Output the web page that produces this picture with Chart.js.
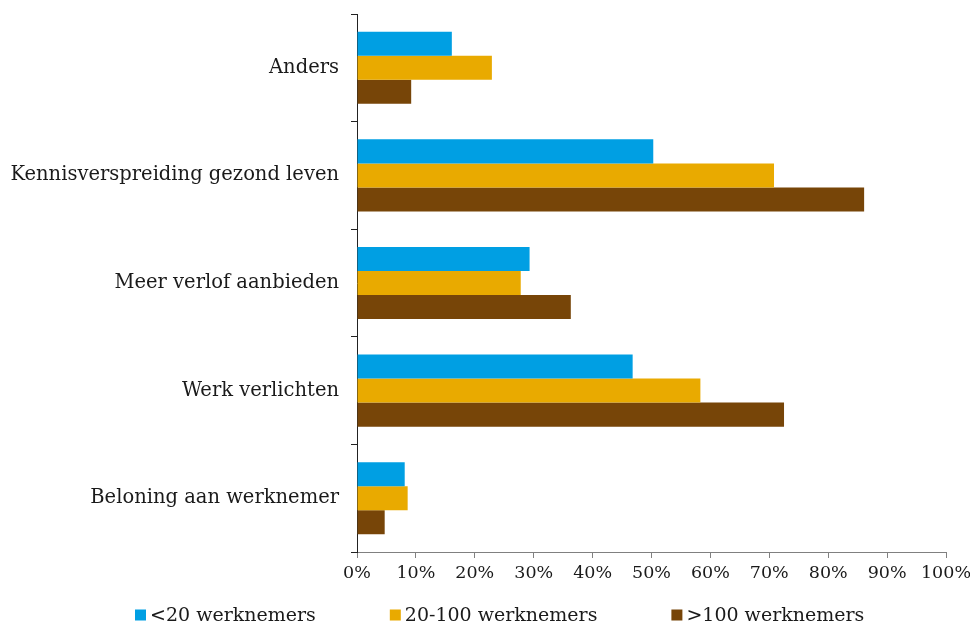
<!DOCTYPE html>
<html>
<head>
<meta charset="utf-8">
<script src="https://cdn.jsdelivr.net/npm/chart.js@4"></script>
<style>
html,body{margin:0;padding:0;background:#fff;}
#wrap{width:970px;height:624px;position:relative;}
</style>
</head>
<body>
<div id="wrap"><canvas id="c" width="970" height="624"></canvas></div>
<script>
const categories = ["Anders", "Kennisverspreiding gezond leven", "Meer verlof aanbieden", "Werk verlichten", "Beloning aan werknemer"];
const seriesNames = ["<20 werknemers", "20-100 werknemers", ">100 werknemers"];
const small = [16.1, 50.3, 29.3, 46.8, 8.1];
const medium = [22.9, 70.8, 27.8, 58.3, 8.6];
const large = [9.2, 86.1, 36.3, 72.5, 4.7];
const xTicks = [0, 10, 20, 30, 40, 50, 60, 70, 80, 90, 100];
const colors = ["#009FE3", "#E9AA00", "#774508"];

const FONT = "'DejaVu Serif', serif";
const TEXT = '#1a1a1a';

const customLegend = {
  id: 'customLegend',
  afterDraw(chart) {
    const ctx = chart.ctx;
    ctx.save();
    ctx.font = "19px " + FONT;
    ctx.textBaseline = 'middle';
    ctx.textAlign = 'left';
    const y = 615;
    const box = 11, gap = 4, spacing = 74;
    let x = 135;
    chart.data.datasets.forEach(ds => {
      ctx.fillStyle = ds.backgroundColor;
      ctx.fillRect(x, y - box / 2, box, box);
      ctx.fillStyle = TEXT;
      ctx.fillText(ds.label, x + box + gap, y + 1);
      x += box + gap + ctx.measureText(ds.label).width + spacing;
    });
    ctx.restore();
  }
};

new Chart(document.getElementById('c'), {
  type: 'bar',
  data: {
    labels: categories,
    datasets: [
      {label: seriesNames[0], data: small, backgroundColor: colors[0]},
      {label: seriesNames[1], data: medium, backgroundColor: colors[1]},
      {label: seriesNames[2], data: large, backgroundColor: colors[2]}
    ]
  },
  options: {
    indexAxis: 'y',
    responsive: false,
    animation: false,
    layout: {padding: {left: 0, right: 24, top: 14, bottom: 32}},
    datasets: {bar: {barPercentage: 1, categoryPercentage: 0.67}},
    scales: {
      x: {
        min: 0, max: 100,
        afterBuildTicks: s => { s.ticks = xTicks.map(v => ({value: v})); },
        afterFit: s => { s.height = 40; s.paddingLeft = 0; s.paddingRight = 0; },
        grid: {drawOnChartArea: false, tickLength: 6, color: '#808080', tickColor: '#808080'},
        border: {color: '#808080', width: 1},
        ticks: {color: TEXT, font: {family: FONT, size: 17.5}, padding: 5, callback: v => v + '%', maxRotation: 0}
      },
      y: {
        afterFit: s => { s.width = 357; s.paddingTop = 0; s.paddingBottom = 0; },
        grid: {drawOnChartArea: false, offset: true, tickLength: 6, color: '#222', tickColor: '#222'},
        border: {color: '#222', width: 1},
        ticks: {color: TEXT, font: {family: FONT, size: 19.5}, padding: 12}
      }
    },
    plugins: {
      legend: {display: false},
      tooltip: {enabled: false}
    }
  },
  plugins: [customLegend]
});
</script>
</body>
</html>
